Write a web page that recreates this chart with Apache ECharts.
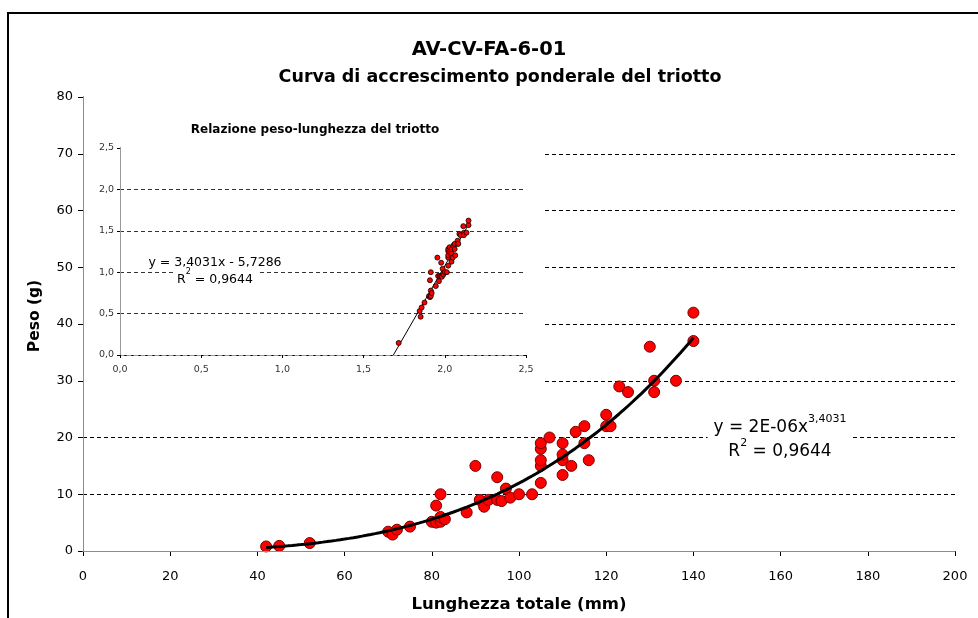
<!DOCTYPE html>
<html>
<head>
<meta charset="utf-8">
<title>AV-CV-FA-6-01</title>
<script src="https://cdn.jsdelivr.net/npm/echarts@6/dist/echarts.min.js"></script>
<style>
  html, body { margin: 0; padding: 0; background: #ffffff; }
  #chart { width: 978px; height: 618px; }
</style>
</head>
<body>
<div id="chart"></div>
<script>
// Total length (mm) and weight (g) of each measured tench
const lengthMm = [42, 45, 52, 70, 71, 72, 75, 80, 81, 82, 82, 83, 81, 82, 88, 90, 91, 92, 93, 95,
                  95, 96, 97, 98, 100, 103, 105, 105, 105, 105, 105, 107, 110, 110, 110, 110, 112, 113, 115, 115,
                  116, 120, 120, 121, 123, 125, 130, 131, 131, 136, 140, 140];
const weightG  = [0.8, 0.9, 1.4, 3.4, 2.9, 3.75, 4.3, 5.15, 5.0, 5.15, 6.0, 5.6, 8.0, 10, 6.8, 15, 9.0, 7.8, 9.0, 13,
                  9.0, 8.8, 11, 9.4, 10, 10, 12, 15, 16, 18, 19, 20, 13.4, 16, 17, 19, 15, 21, 22, 19,
                  16, 24, 22, 22, 29, 28, 36, 30, 28, 30, 37, 42];

// Power-law fit W = 10^a * L^b (linear in log10 space)
const fitSlope = 3.4031;
const fitIntercept = -5.7286;

// Axis ticks
const mainXTicks = [0, 20, 40, 60, 80, 100, 120, 140, 160, 180, 200];
const mainYTicks = [0, 10, 20, 30, 40, 50, 60, 70, 80];
const insetTicks = [0, 0.5, 1.0, 1.5, 2.0, 2.5];

const FONT = '"DejaVu Sans", Verdana, sans-serif';

const mainPoints = lengthMm.map((l, i) => [l, weightG[i]]);
const logPoints = lengthMm.map((l, i) => [Math.log10(l), Math.log10(weightG[i])]);

// Fitted curve over the measured length range
const lMin = Math.min(...lengthMm), lMax = Math.max(...lengthMm);
const fitCurve = [];
for (let l = lMin; l <= lMax; l += 1) {
  fitCurve.push([l, Math.pow(10, fitIntercept) * Math.pow(l, fitSlope)]);
}
const logFitLine = [
  [-fitIntercept / fitSlope, 0],
  [Math.log10(lMax), fitSlope * Math.log10(lMax) + fitIntercept]
];

const comma = v => v.toFixed(1).replace('.', ',');
const dashed = [4, 3];

// One centred line of an equation label, on a white box that breaks the grid line
function eqLine(x, y, text, size, supSize, supRise, pad) {
  return {
    type: 'text', z: 20, silent: true, x: x, y: y,
    style: {
      text: text, align: 'center', verticalAlign: 'middle',
      backgroundColor: '#ffffff', padding: pad,
      rich: {
        a: { fontFamily: FONT, fontSize: size, color: '#000', lineHeight: size + 6, verticalAlign: 'bottom' },
        s: { fontFamily: FONT, fontSize: supSize, color: '#000', lineHeight: size + 6, verticalAlign: 'top', padding: [0, 0, supRise, 0] }
      }
    }
  };
}

const chart = echarts.init(document.getElementById('chart'), null, { renderer: 'canvas' });

chart.setOption({
  backgroundColor: '#ffffff',
  animation: false,
  textStyle: { fontFamily: FONT },
  title: [
    {
      text: 'AV-CV-FA-6-01', left: 'center', top: 35,
      textStyle: { fontFamily: FONT, fontSize: 19.5, fontWeight: 'bold', color: '#000' }
    },
    {
      text: 'Curva di accrescimento ponderale del triotto', left: 495, textAlign: 'center', top: 63,
      textStyle: { fontFamily: FONT, fontSize: 17.5, fontWeight: 'bold', color: '#000' }
    },
    {
      text: 'Relazione peso-lunghezza del triotto', left: 310, textAlign: 'center', top: 119,
      textStyle: { fontFamily: FONT, fontSize: 12, fontWeight: 'bold', color: '#000' }, z: 12
    }
  ],
  grid: [
    { left: 83, top: 97, width: 872, height: 455, containLabel: false },
    { left: 120, top: 148, width: 406, height: 207, containLabel: false }
  ],
  xAxis: [
    {
      gridIndex: 0, type: 'value', min: mainXTicks[0], max: mainXTicks[mainXTicks.length - 1], interval: 20,
      axisLine: { show: true, lineStyle: { color: '#000', width: 1 } },
      axisTick: { show: true, inside: false, length: 5, lineStyle: { color: '#000' } },
      axisLabel: { fontFamily: FONT, fontSize: 13, color: '#000', margin: 19 },
      splitLine: { show: false },
      name: 'Lunghezza totale (mm)', nameLocation: 'middle', nameGap: 45,
      nameTextStyle: { fontFamily: FONT, fontSize: 16.5, fontWeight: 'bold', color: '#000' }
    },
    {
      gridIndex: 0, type: 'value', position: 'top', min: 0, max: 200, z: 10,
      axisLine: { show: true, lineStyle: { color: '#8c8c8c', width: 1 } },
      axisTick: { show: false }, axisLabel: { show: false }, splitLine: { show: false }
    },
    {
      gridIndex: 1, type: 'value', min: insetTicks[0], max: insetTicks[insetTicks.length - 1], interval: 0.5, z: 10,
      axisLine: { show: true, lineStyle: { color: '#000', width: 1 } },
      axisTick: { show: true, inside: false, length: 3, lineStyle: { color: '#000' } },
      axisLabel: { fontFamily: FONT, fontSize: 9.5, color: '#333', margin: 10, formatter: comma },
      splitLine: { show: false }
    },
    {
      gridIndex: 1, type: 'value', position: 'top', min: 0, max: 2.5, z: 10,
      axisLine: { show: true, lineStyle: { color: '#999', width: 1, type: dashed } },
      axisTick: { show: false }, axisLabel: { show: false }, splitLine: { show: false }
    }
  ],
  yAxis: [
    {
      gridIndex: 0, type: 'value', min: mainYTicks[0], max: mainYTicks[mainYTicks.length - 1], interval: 10,
      axisLine: { show: true, lineStyle: { color: '#000', width: 1 } },
      axisTick: { show: true, inside: false, length: 5, lineStyle: { color: '#000' } },
      axisLabel: { fontFamily: FONT, fontSize: 13, color: '#000', margin: 10 },
      splitLine: { show: true, showMinLine: false, showMaxLine: false, lineStyle: { color: '#000', width: 1, type: dashed } },
      name: 'Peso (g)', nameLocation: 'middle', nameGap: 40, nameRotate: 90,
      nameTextStyle: { fontFamily: FONT, fontSize: 15.5, fontWeight: 'bold', color: '#000', padding: [0, 0, 0, 16] }
    },
    {
      gridIndex: 0, type: 'value', position: 'right', min: 0, max: 80, z: 10,
      axisLine: { show: true, lineStyle: { color: '#8c8c8c', width: 1 } },
      axisTick: { show: false }, axisLabel: { show: false }, splitLine: { show: false }
    },
    {
      gridIndex: 1, type: 'value', min: insetTicks[0], max: insetTicks[insetTicks.length - 1], interval: 0.5, z: 10,
      axisLine: { show: true, lineStyle: { color: '#000', width: 1 } },
      axisTick: { show: true, inside: false, length: 3, lineStyle: { color: '#000' } },
      axisLabel: { fontFamily: FONT, fontSize: 9.5, color: '#333', margin: 6, formatter: comma },
      splitLine: { show: true, showMinLine: false, showMaxLine: false, lineStyle: { color: '#333', width: 1, type: dashed } }
    },
    {
      gridIndex: 1, type: 'value', position: 'right', min: 0, max: 2.5, z: 10,
      axisLine: { show: true, lineStyle: { color: '#999', width: 1 } },
      axisTick: { show: false }, axisLabel: { show: false }, splitLine: { show: false }
    }
  ],
  graphic: [
    {
      // outer chart frame
      type: 'rect', z: 30, silent: true,
      shape: { x: 8, y: 13, width: 1000, height: 700 },
      style: { fill: 'none', stroke: '#000', lineWidth: 2 }
    },
    {
      // white backing of the inset chart
      type: 'rect', z: 5, silent: true,
      shape: { x: 84, y: 98, width: 459, height: 287 },
      style: { fill: '#ffffff' }
    },
    eqLine(780, 425, '{a|y = 2E-06x}{s|3,4031}', 17, 11, 9, [2, 6, 2, 6]),
    eqLine(780, 449, '{a|R}{s|2}{a| = 0,9644}', 17, 11, 9, [2, 6, 2, 6]),
    eqLine(215, 260, '{a|y = 3,4031x - 5,7286}', 12.5, 8, 6, [1, 4, 1, 4]),
    eqLine(215, 277, '{a|R}{s|2}{a| = 0,9644}', 12.5, 8, 6, [1, 4, 1, 4])
  ],
  series: [
    {
      type: 'scatter', xAxisIndex: 0, yAxisIndex: 0, z: 3,
      data: mainPoints, symbol: 'circle', symbolSize: 11,
      itemStyle: { color: '#ff0000', borderColor: '#7a0000', borderWidth: 1, opacity: 1 }
    },
    {
      type: 'line', xAxisIndex: 0, yAxisIndex: 0, z: 4,
      data: fitCurve, showSymbol: false, smooth: false,
      lineStyle: { color: '#000', width: 3 }
    },
    {
      type: 'line', xAxisIndex: 2, yAxisIndex: 2, z: 12,
      data: logFitLine, showSymbol: false,
      lineStyle: { color: '#000', width: 1 }
    },
    {
      type: 'scatter', xAxisIndex: 2, yAxisIndex: 2, z: 13,
      data: logPoints, symbol: 'circle', symbolSize: 5,
      itemStyle: { color: '#ff0000', borderColor: '#000', borderWidth: 0.8, opacity: 1 }
    }
  ]
});
</script>
</body>
</html>
